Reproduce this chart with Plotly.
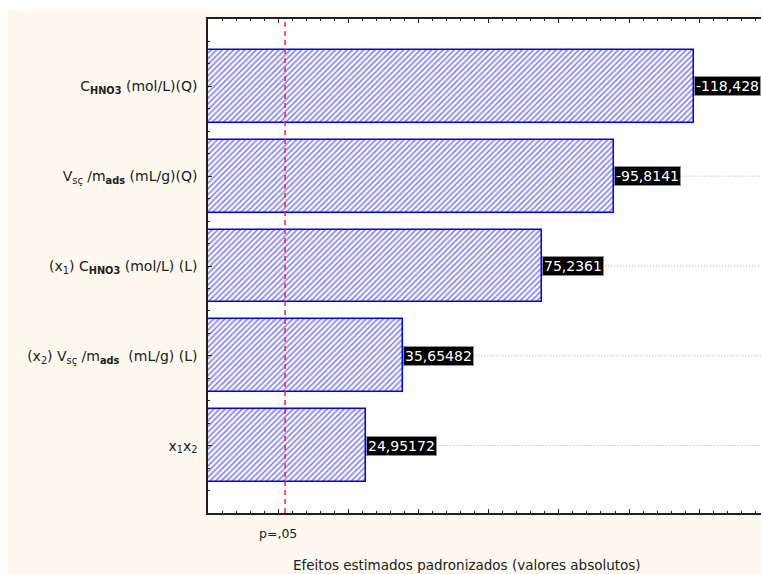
import plotly.graph_objects as go

# ---- data ----
factors = [
    "C<sub><b>HNO3</b></sub> (mol/L)(Q)",
    "V<sub>sç</sub> /m<sub><b>ads</b></sub> (mL/g)(Q)",
    "(x<sub>1</sub>) C<sub><b>HNO3</b></sub> (mol/L) (L)",
    "(x<sub>2</sub>) V<sub>sç</sub> /m<sub><b>ads</b></sub>  (mL/g) (L)",
    "x<sub>1</sub>x<sub>2</sub>",
]
effects = [-118.428, -95.8141, 75.2361, 35.65482, 24.95172]
effect_labels = ["-118,428", "-95,8141", "75,2361", "35,65482", "24,95172"]
p_crit = 1.96
p_label = "p=,05"
x_title = "Efeitos estimados padronizados (valores absolutos)"
x_min, x_max = -20, 137.6

abs_effects = [abs(v) for v in effects]
positions = list(range(len(factors)))

W, H = 761, 574
ML, MR, MT, MB = 208, 0, 19, 61
cream = "#fdf9ee"

fig = go.Figure()
fig.add_trace(go.Bar(
    x=[v - x_min for v in abs_effects],
    base=x_min,
    y=positions,
    orientation="h",
    width=0.81,
    marker=dict(
        color="white",
        line=dict(color="#0000ff", width=1.5),
        pattern=dict(shape="/", fgcolor="#0000ff", bgcolor="white", size=4, solidity=0.4),
    ),
    hoverinfo="skip",
    showlegend=False,
))

shapes = []
pw = W - ML - MR
ph = H - MT - MB
def px_to_paper_x(px):
    return (px - ML) / pw
def px_to_paper_y(py):
    return (H - MB - py) / ph
# white outer margins (top / left strips)
shapes.append(dict(type="rect", xref="paper", yref="paper",
                   x0=px_to_paper_x(0), x1=px_to_paper_x(W),
                   y0=px_to_paper_y(10), y1=px_to_paper_y(0),
                   fillcolor="white", line=dict(width=0), layer="below"))
shapes.append(dict(type="rect", xref="paper", yref="paper",
                   x0=px_to_paper_x(0), x1=px_to_paper_x(8),
                   y0=px_to_paper_y(H), y1=px_to_paper_y(0),
                   fillcolor="white", line=dict(width=0), layer="below"))
# dotted guide lines from each bar end
for v, pos in zip(abs_effects, positions):
    shapes.append(dict(type="line", xref="x", yref="y", x0=v, x1=x_max, y0=pos, y1=pos,
                       line=dict(color="#a8a8a8", width=1, dash="1px,2px")))
# p = .05 line
shapes.append(dict(type="line", xref="x", yref="paper", x0=p_crit, x1=p_crit, y0=0, y1=1,
                   line=dict(color="#ff2020", width=1.5, dash="5px,4px")))

annotations = []
for v, pos, lab in zip(abs_effects, positions, effect_labels):
    annotations.append(dict(x=v, y=pos, xref="x", yref="y", text=lab, showarrow=False,
                            xanchor="left", yanchor="middle",
                            font=dict(family="DejaVu Sans", size=14, color="white"),
                            bgcolor="black", bordercolor="#909090", borderwidth=1, borderpad=1))
annotations.append(dict(x=p_crit, y=px_to_paper_y(533), xref="x", yref="paper", text=p_label,
                        showarrow=False, xanchor="center", yanchor="middle", xshift=-7,
                        font=dict(family="DejaVu Sans", size=12.5, color="#202020")))
annotations.append(dict(x=px_to_paper_x(467), y=px_to_paper_y(565), xref="paper", yref="paper",
                        text=x_title, showarrow=False, xanchor="center", yanchor="middle",
                        font=dict(family="DejaVu Sans", size=13.5, color="#202020")))

fig.update_layout(
    width=W, height=H,
    margin=dict(l=ML, r=MR, t=MT, b=MB, pad=0),
    paper_bgcolor=cream,
    plot_bgcolor="white",
    bargap=0,
    shapes=shapes,
    annotations=annotations,
    showlegend=False,
    xaxis=dict(
        range=[x_min, x_max], showgrid=False, zeroline=False,
        showline=True, linecolor="#202020", linewidth=1.5, mirror="ticks",
        ticks="inside", ticklen=4, tickcolor="#202020", tickmode="linear", tick0=0, dtick=20,
        showticklabels=False,
        minor=dict(ticks="inside", ticklen=2, tickcolor="#202020", tickmode="linear", tick0=x_min, dtick=4),
    ),
    yaxis=dict(
        range=[len(factors) - 0.25, -0.75], showgrid=False, zeroline=False,
        showline=True, linecolor="#202020", linewidth=1.5, mirror=False,
        ticks="inside", ticklen=4, tickcolor="#202020",
        tickmode="array", tickvals=positions, ticktext=factors,
        tickfont=dict(family="DejaVu Sans", size=14, color="#202020"),
        ticklabelstandoff=6,
        minor=dict(ticks="inside", ticklen=2, tickcolor="#202020", tickmode="linear", tick0=-0.75, dtick=0.25),
    ),
)

fig.write_html("out.html")
